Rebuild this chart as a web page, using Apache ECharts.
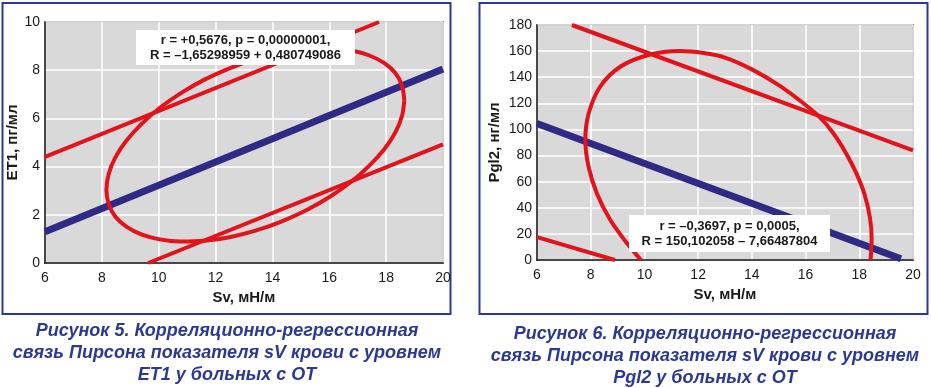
<!DOCTYPE html>
<html><head><meta charset="utf-8">
<script src="https://cdn.jsdelivr.net/npm/echarts@6/dist/echarts.min.js"></script>
<style>html,body{margin:0;padding:0;background:#fff}#c{width:931px;height:388px}</style>
</head><body><div id="c"></div>
<script>
// ---- Figure 5 (ET1) ----
const xRange = [6, 20];
const yRangeL = [0, 10];
const yRangeR = [0, 180];
const regressionL = [[6, 1.3], [20, 8.05]];
const upperBandL = [[6, 4.4], [17.75, 10]];
const lowerBandL = [[9.63, 0], [20, 4.92]];
const ellipseL = [[18.64,6.76],[18.56,7.35],[18.33,7.87],[17.94,8.29],[17.41,8.61],[16.77,8.82],[16.02,8.91],[15.19,8.88],[14.31,8.73],[13.4,8.46],[12.49,8.08],[11.61,7.61],[10.78,7.05],[10.03,6.43],[9.39,5.76],[8.86,5.07],[8.47,4.37],[8.24,3.69],[8.16,3.04],[8.24,2.45],[8.47,1.93],[8.86,1.51],[9.39,1.19],[10.03,0.98],[10.78,0.89],[11.61,0.92],[12.49,1.07],[13.4,1.34],[14.31,1.72],[15.19,2.19],[16.02,2.75],[16.77,3.37],[17.41,4.04],[17.94,4.73],[18.33,5.43],[18.56,6.11],[18.64,6.76]];
// ---- Figure 6 (Pgl2) ----
const regressionR = [[6, 104.5], [19.55, 1]];
const upperBandR = [[7.3, 180], [20, 84]];
const lowerBandR = [[6, 17.5], [8.9, 0]];
const ellipseR = [[9.87,0],[9.35,12.8],[8.73,30.6],[8.23,51],[7.92,71.4],[7.80,91.9],[7.92,112],[8.35,132.7],[9.10,148],[10.15,157],[11.3,160],[12.2,158.5],[13,155],[14,146],[15,134],[15.8,122],[16.5,110],[17.0,98],[17.5,82],[17.9,66],[18.2,50],[18.4,32],[18.46,16],[18.42,0]];
// ---- texts ----
const axisNameX = 'Sv, мН/м';
const axisNameYL = 'ET1, пг/мл';
const axisNameYR = 'Pgl2, нг/мл';
const noteL = ['r = +0,5676, p = 0,00000001,', 'R = –1,65298959 + 0,480749086'];
const noteR = ['r = –0,3697, p = 0,0005,', 'R = 150,102058 – 7,66487804'];
const captionL = ['Рисунок 5. Корреляционно-регрессионная', 'связь Пирсона показателя sV крови с уровнем', 'ET1 у больных с ОТ'];
const captionR = ['Рисунок 6. Корреляционно-регрессионная', 'связь Пирсона показателя sV крови с уровнем', 'Pgl2 у больных с ОТ'];

const RED = '#e3131b', BLUE = '#2e2a86', NAVY = '#2b3990', INK = '#1a1a1a';
const FONT = '"Liberation Sans", Arial, sans-serif';

function gridCfg(l, t, w, h) {
  return {left: l, top: t, width: w, height: h, show: true, backgroundColor: '#d9d9d9',
          borderColor: INK, borderWidth: 1.5, containLabel: false};
}
function xAxisCfg(idx) {
  return {type: 'value', gridIndex: idx, min: xRange[0], max: xRange[1], interval: 2,
    name: axisNameX, nameLocation: 'middle', nameGap: idx === 0 ? 26 : 25,
    nameTextStyle: {fontFamily: FONT, fontSize: 15, fontWeight: 'bold', color: INK},
    axisLine: {show: true, onZero: false, lineStyle: {color: INK, width: 1.5}},
    axisTick: {show: false},
    axisLabel: {fontFamily: FONT, fontSize: 14, color: INK, margin: 8},
    splitLine: {show: true, lineStyle: {color: '#ffffff', width: 1.5}}};
}
function yAxisCfg(idx, range, interval, name, gap) {
  return {type: 'value', gridIndex: idx, min: range[0], max: range[1], interval: interval,
    name: name, nameLocation: 'middle', nameGap: gap, nameRotate: 90,
    nameTextStyle: {fontFamily: FONT, fontSize: 15, fontWeight: 'bold', color: INK},
    axisLine: {show: true, onZero: false, lineStyle: {color: INK, width: 1.5}},
    axisTick: {show: false},
    axisLabel: {fontFamily: FONT, fontSize: 14, color: INK, margin: 5},
    splitLine: {show: true, lineStyle: {color: '#ffffff', width: 1.5}}};
}
function line(data, idx, color, width, smooth) {
  return {type: 'line', xAxisIndex: idx, yAxisIndex: idx, data: data, symbol: 'none',
    smooth: smooth || false, clip: true, silent: true, animation: false,
    lineStyle: {color: color, width: width, cap: 'butt', join: 'round'}};
}
function note(lines, x, y, w, h) {
  const items = [{type: 'rect', z: 100, shape: {x: x, y: y, width: w, height: h}, style: {fill: '#ffffff'}}];
  lines.forEach((t, i) => items.push({type: 'text', z: 101,
    style: {text: t, x: x + w / 2, y: y + h / 2 + (i - 0.5) * 15, align: 'center', verticalAlign: 'middle',
            font: 'bold 13px ' + FONT, fill: INK}}));
  return items;
}
function caption(lines, cx, y0) {
  return lines.map((t, i) => ({type: 'text', z: 10,
    style: {text: t, x: cx, y: y0 + i * 22, align: 'center', verticalAlign: 'middle',
            font: 'italic bold 18px ' + FONT, fill: NAVY}}));
}

const chart = echarts.init(document.getElementById('c'), null, {renderer: 'canvas'});
chart.setOption({
  animation: false,
  backgroundColor: '#ffffff',
  grid: [gridCfg(45, 22, 398, 241), gridCfg(537, 25, 376, 235)],
  xAxis: [xAxisCfg(0), xAxisCfg(1)],
  yAxis: [yAxisCfg(0, yRangeL, 2, axisNameYL, 19), yAxisCfg(1, yRangeR, 20, axisNameYR, 35)],
  series: [
    line(regressionL, 0, BLUE, 7),
    line(upperBandL, 0, RED, 4),
    line(lowerBandL, 0, RED, 4),
    line(ellipseL, 0, RED, 4, 0.3),
    line(regressionR, 1, BLUE, 7),
    line(upperBandR, 1, RED, 4),
    line(lowerBandR, 1, RED, 4),
    line(ellipseR, 1, RED, 4, 0.3)
  ],
  graphic: [
    {type: 'rect', z: 0, shape: {x: 2.5, y: 3, width: 448, height: 311}, style: {fill: 'none', stroke: NAVY, lineWidth: 2}},
    {type: 'rect', z: 0, shape: {x: 479.5, y: 3, width: 448, height: 311}, style: {fill: 'none', stroke: NAVY, lineWidth: 2}}
  ].concat(note(noteL, 136, 30, 219, 35))
   .concat(note(noteR, 629, 215, 201, 37))
   .concat(caption(captionL, 227, 331))
   .concat(caption(captionR, 705, 334))
});
</script></body></html>
